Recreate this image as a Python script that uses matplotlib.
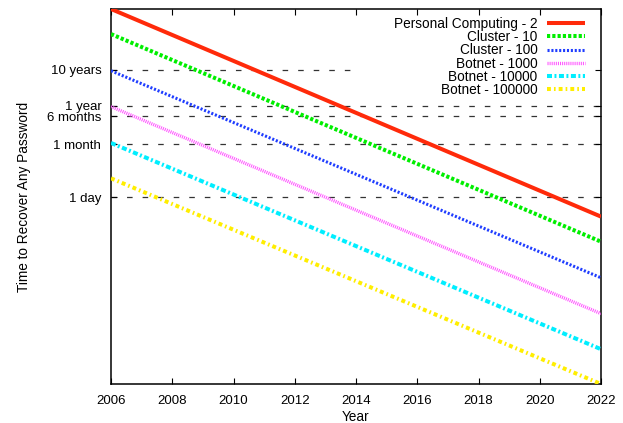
import matplotlib
matplotlib.use("Agg")
import matplotlib.pyplot as plt
from matplotlib.patches import Rectangle
from matplotlib.ticker import NullLocator, FixedLocator, FixedFormatter

plt.rcParams['font.family'] = ['Liberation Sans', 'DejaVu Sans']
plt.rcParams['lines.scale_dashes'] = False

# Time (in days) needed to recover any password, at the start and end year
years = [2006, 2022]
series_names = ["Personal Computing - 2", "Cluster - 10", "Cluster - 100",
                "Botnet - 1000", "Botnet - 10000", "Botnet - 100000"]
pc_2 = [1.8e5, 0.29]
cluster_10 = [3.6e4, 0.058]
cluster_100 = [3.4e3, 0.0057]
botnet_1000 = [3.4e2, 5.7e-4]
botnet_10000 = [3.3e1, 5.8e-5]
botnet_100000 = [3.4, 6.2e-6]

# Reference durations (days) shown on the y axis
ref_days = [1, 30, 182.5, 365, 3650]
ref_labels = ["1 day", "1 month", "6 months", "1 year", "10 years"]
year_ticks = list(range(2006, 2023, 2))

FS = 9.8
TICK_FS = 9.5

styles = [
    dict(color="#ff2a0a", lw=2.9, ls="-"),
    dict(color="#00ee00", lw=2.9, dashes=(2.3, 1.5)),
    dict(color="#1f3dff", lw=2.2, dashes=(1.5, 1.3)),
    dict(color="#ff55ff", lw=2.4, dashes=(0.75, 0.75)),
    dict(color="#00eeff", lw=2.9, dashes=(3.6, 1.8, 1.4, 1.8)),
    dict(color="#ffee00", lw=2.9, dashes=(2.8, 2.2, 1.2, 2.2)),
]

fig = plt.figure(figsize=(6.23, 4.23), dpi=100)
ax = fig.add_axes([111 / 623, 1 - 384 / 423, 490 / 623, 375 / 423])

ax.set_yscale("log")
ax.set_xlim(years[0], years[-1])
ax.set_ylim(botnet_100000[-1], pc_2[0])

# dashed reference lines at each duration
for d in ref_days:
    ax.axhline(d, color="#333333", lw=0.9, dashes=(4.0, 7.2), zorder=1)

# white backing behind the key
ax.add_patch(Rectangle((0.504, 0.763), 0.496, 0.237, transform=ax.transAxes,
                       facecolor="white", edgecolor="none", zorder=1.5))

all_series = [pc_2, cluster_10, cluster_100, botnet_1000, botnet_10000, botnet_100000]
for name, vals, st in zip(series_names, all_series, styles):
    ax.plot(years, vals, label=name, zorder=3, solid_capstyle="butt",
            dash_capstyle="butt", **st)

ax.yaxis.set_major_locator(FixedLocator(ref_days))
ax.yaxis.set_major_formatter(FixedFormatter(ref_labels))
ax.yaxis.set_minor_locator(NullLocator())
ax.set_xticks(year_ticks)
ax.set_xticklabels([str(y) for y in year_ticks])

ax.tick_params(axis="both", which="major", direction="in", length=4.3, width=0.8,
               labelsize=TICK_FS, top=True, right=True)
ax.tick_params(axis="x", pad=8)
ax.tick_params(axis="y", pad=7)
for sp in ax.spines.values():
    sp.set_linewidth(1.1)

ax.set_xlabel("Year", fontsize=FS)
ax.set_ylabel("Time to Recover Any Password", fontsize=FS)
ax.xaxis.set_label_coords(0.5, -0.07)
ax.yaxis.set_label_coords(-0.163, 0.5)

leg = ax.legend(loc="upper right", bbox_to_anchor=(0.9755, 0.99), frameon=False,
                markerfirst=False, fontsize=FS, handlelength=2.8,
                handletextpad=0.68, labelspacing=-0.055, borderpad=0.3,
                borderaxespad=0)
leg.set_zorder(5)

fig.savefig("out.png", dpi=100)
